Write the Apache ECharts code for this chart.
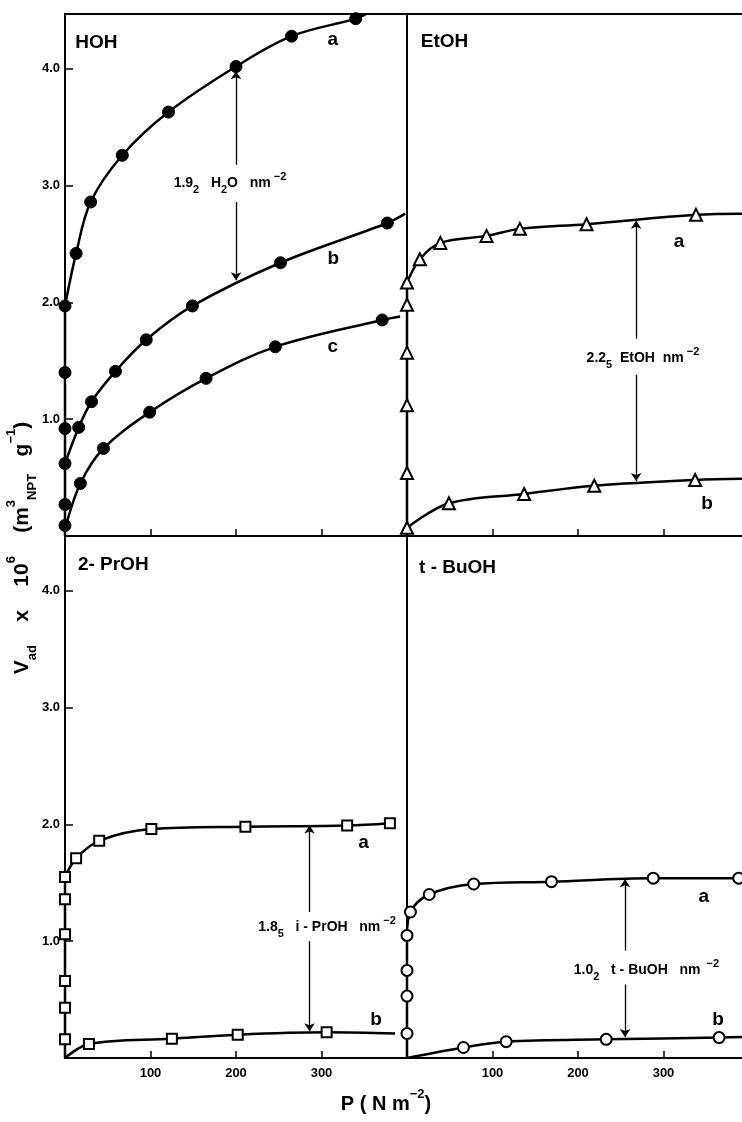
<!DOCTYPE html>
<html>
<head>
<meta charset="utf-8">
<script src="https://cdn.jsdelivr.net/npm/echarts@6/dist/echarts.min.js"></script>
<style>
html,body{margin:0;padding:0;background:#fff;}
#chart{width:742px;height:1122px;}
</style>
</head>
<body>
<div id="chart"></div>
<script>
// ---------- tick labels ----------
const xTickLabels = [100, 200, 300];
const yTickLabels = [1, 2, 3, 4];

// ---------- HOH (filled circles) ----------
const hohRise = [[0, 0], [0, 1.97]];
const hohAxisPts = [[0, 0.09], [0, 0.27], [0, 0.62], [0, 0.92], [0, 1.40], [0, 1.97]];
const hohA = [[13, 2.42], [30, 2.86], [67, 3.26], [121, 3.63], [200, 4.02], [265, 4.28], [340, 4.43]];
const hohB = [[16, 0.93], [31, 1.15], [59, 1.41], [95, 1.68], [149, 1.97], [252, 2.34], [377, 2.68]];
const hohC = [[18, 0.45], [45, 0.75], [99, 1.06], [165, 1.35], [246, 1.62], [371, 1.85]];
const hohACurve = [[0, 1.97]].concat(hohA, [[352, 4.47]]);
const hohBCurve = [[0, 0.62]].concat(hohB, [[398, 2.76]]);
const hohCCurve = [[0, 0.06]].concat(hohC, [[392, 1.88]]);
const hohArrow = { x: 200, upFrom: 3.18, upTo: 3.98, downFrom: 2.86, downTo: 2.19 };

// ---------- EtOH (open triangles) ----------
const etohRise = [[0, 0], [0, 2.17]];
const etohAxisPts = [[0, 0.07], [0, 0.54], [0, 1.12], [0, 1.57], [0, 1.98], [0, 2.17]];
const etohA = [[15, 2.37], [39, 2.51], [93, 2.57], [132, 2.63], [210, 2.67], [338, 2.75]];
const etohB = [[49, 0.28], [137, 0.36], [219, 0.43], [337, 0.48]];
const etohACurve = [[0, 2.17]].concat(etohA, [[400, 2.76]]);
const etohBCurve = [[0, 0.07]].concat(etohB, [[400, 0.49]]);
const etohArrow = { x: 268, upFrom: 1.69, upTo: 2.70, downFrom: 1.38, downTo: 0.47 };

// ---------- 2-PrOH (open squares) ----------
const prRise = [[0, 0], [0, 1.55]];
const prAxisPts = [[0, 0.16], [0, 0.43], [0, 0.66], [0, 1.06], [0, 1.36], [0, 1.55]];
const prA = [[13, 1.71], [40, 1.86], [101, 1.96], [211, 1.98], [330, 1.99], [380, 2.01]];
const prB = [[28, 0.12], [125, 0.165], [202, 0.20], [306, 0.22]];
const prACurve = [[0, 1.55]].concat(prA);
const prBCurve = [[0, 0]].concat(prB, [[386, 0.21]]);
const prArrow = { x: 286, upFrom: 1.25, upTo: 1.99, downFrom: 1.00, downTo: 0.23 };

// ---------- t-BuOH (open circles) ----------
const buRise = [[0, 0], [0, 1.05]];
const buAxisPts = [[0, 0.21], [0, 0.53], [0, 0.75], [0, 1.05]];
const buA = [[4, 1.25], [26, 1.40], [78, 1.49], [169, 1.51], [288, 1.54], [388, 1.54]];
const buB = [[66, 0.09], [116, 0.14], [233, 0.16], [365, 0.175]];
const buACurve = [[0, 1.05]].concat(buA, [[400, 1.54]]);
const buBCurve = [[0, 0]].concat(buB, [[400, 0.18]]);
const buArrow = { x: 255, upFrom: 0.92, upTo: 1.53, downFrom: 0.63, downTo: 0.18 };

// ---------- chart ----------
const FONT = 'Liberation Sans';
const BLACK = '#000';
const chart = echarts.init(document.getElementById('chart'), null, { renderer: 'canvas' });

const gridPos = [
  { left: 65, top: 14 },
  { left: 407, top: 14 },
  { left: 65, top: 536 },
  { left: 407, top: 536 }
];
const grid = gridPos.map(p => ({
  left: p.left, top: p.top, width: 342, height: 522,
  show: true, borderColor: BLACK, borderWidth: 2, backgroundColor: 'transparent',
  containLabel: false, outerBoundsMode: 'none'
}));

const xAxis = [0, 1, 2, 3].map(i => ({
  type: 'value', gridIndex: i, min: 0, max: 400, interval: 100,
  axisLine: { show: true, onZero: false, lineStyle: { color: BLACK, width: 2 } },
  axisTick: { show: true, inside: true, length: 7, lineStyle: { color: BLACK, width: 1.5 } },
  axisLabel: {
    show: i >= 2, margin: 9, color: BLACK, fontFamily: FONT, fontSize: 13, fontWeight: 'bold',
    formatter: v => xTickLabels.indexOf(v) >= 0 ? String(v) : ''
  },
  splitLine: { show: false }
}));

const yAxis = [0, 1, 2, 3].map(i => ({
  type: 'value', gridIndex: i, min: 0, max: 4.47, interval: 1,
  axisLine: { show: true, onZero: false, lineStyle: { color: BLACK, width: i % 2 ? 1.5 : 2 } },
  axisTick: { show: i % 2 === 0, inside: true, length: 8, lineStyle: { color: BLACK, width: 1.5 } },
  axisLabel: {
    show: i % 2 === 0, margin: 5, color: BLACK, fontFamily: FONT, fontSize: 13, fontWeight: 'bold',
    formatter: v => yTickLabels.indexOf(v) >= 0 ? v.toFixed(1) : ''
  },
  splitLine: { show: false }
}));

function curve(gi, data) {
  return { type: 'line', xAxisIndex: gi, yAxisIndex: gi, data: data, smooth: 0.35,
    symbol: 'none', lineStyle: { color: BLACK, width: 2.5 }, clip: true, silent: true, z: 3 };
}
function straight(gi, data) {
  return { type: 'line', xAxisIndex: gi, yAxisIndex: gi, data: data, smooth: false,
    symbol: 'none', lineStyle: { color: BLACK, width: 2.5 }, clip: false, silent: true, z: 3 };
}
function marks(gi, data, m) {
  return { type: 'scatter', xAxisIndex: gi, yAxisIndex: gi, data: data, symbol: m.symbol, symbolSize: m.size,
    itemStyle: { color: m.fill, borderColor: BLACK, borderWidth: m.bw, opacity: 1 }, clip: false, silent: true, z: 5 };
}
function arrow(gi, a) {
  return { type: 'line', xAxisIndex: gi, yAxisIndex: gi, data: [[a.x, a.upTo]], symbol: 'none',
    lineStyle: { width: 0 }, silent: true,
    markLine: { silent: true, symbol: ['none', 'arrow'], symbolSize: 8, animation: false,
      lineStyle: { color: BLACK, width: 1.3, type: 'solid', opacity: 1 }, label: { show: false },
      emphasis: { disabled: true },
      data: [
        [{ coord: [a.x, a.upFrom] }, { coord: [a.x, a.upTo] }],
        [{ coord: [a.x, a.downFrom] }, { coord: [a.x, a.downTo] }]
      ] } };
}
const RICH = {
  n: { fontSize: 14, fontWeight: 'bold', fontFamily: FONT, color: BLACK, lineHeight: 24, verticalAlign: 'middle' },
  s: { fontSize: 11, fontWeight: 'bold', fontFamily: FONT, color: BLACK, lineHeight: 14, verticalAlign: 'bottom' },
  p: { fontSize: 11, fontWeight: 'bold', fontFamily: FONT, color: BLACK, lineHeight: 14, verticalAlign: 'top' }
};
function texts(gi, items) {
  return { type: 'scatter', xAxisIndex: gi, yAxisIndex: gi, symbol: 'circle', symbolSize: 0.1, silent: true, clip: false, z: 6,
    itemStyle: { color: BLACK, opacity: 1 },
    data: items.map(t => ({ value: [t.x, t.y],
      label: { show: true, position: 'right', distance: 0, formatter: t.text, color: BLACK, opacity: 1,
        fontFamily: FONT, fontSize: t.size || 14, fontWeight: 'bold', rich: RICH } })) };
}

const filled = { symbol: 'circle', size: 12, fill: BLACK, bw: 1 };
const tri = { symbol: 'triangle', size: 12, fill: '#fff', bw: 2 };
const sq = { symbol: 'rect', size: 10, fill: '#fff', bw: 2 };
const ring = { symbol: 'circle', size: 11, fill: '#fff', bw: 2 };

const series = [
  // HOH
  straight(0, hohRise), curve(0, hohACurve), curve(0, hohBCurve), curve(0, hohCCurve),
  marks(0, hohAxisPts, filled), marks(0, hohA, filled), marks(0, hohB, filled), marks(0, hohC, filled),
  arrow(0, hohArrow),
  texts(0, [
    { x: 12, y: 4.22, text: 'HOH', size: 19 },
    { x: 307, y: 4.25, text: 'a', size: 19 },
    { x: 307, y: 2.37, text: 'b', size: 19 },
    { x: 307, y: 1.62, text: 'c', size: 19 },
    { x: 127, y: 3.02, text: '{n|1.9}{s|2}{n|   H}{s|2}{n|O   nm}{p| −2}' }
  ]),
  // EtOH
  straight(1, etohRise), curve(1, etohACurve), curve(1, etohBCurve),
  marks(1, etohAxisPts, tri), marks(1, etohA, tri), marks(1, etohB, tri),
  arrow(1, etohArrow),
  texts(1, [
    { x: 16, y: 4.23, text: 'EtOH', size: 19 },
    { x: 312, y: 2.52, text: 'a', size: 19 },
    { x: 344, y: 0.28, text: 'b', size: 19 },
    { x: 210, y: 1.52, text: '{n|2.2}{s|5}{n|  EtOH  nm}{p| −2}' }
  ]),
  // 2-PrOH
  straight(2, prRise), curve(2, prACurve), curve(2, prBCurve),
  marks(2, prAxisPts, sq), marks(2, prA, sq), marks(2, prB, sq),
  arrow(2, prArrow),
  texts(2, [
    { x: 15, y: 4.22, text: '2- PrOH', size: 19 },
    { x: 343, y: 1.84, text: 'a', size: 19 },
    { x: 357, y: 0.33, text: 'b', size: 19 },
    { x: 226, y: 1.12, text: '{n|1.8}{s|5}{n|   i - PrOH   nm}{p| −2}' }
  ]),
  // t-BuOH
  straight(3, buRise), curve(3, buACurve), curve(3, buBCurve),
  marks(3, buAxisPts, ring), marks(3, buA, ring), marks(3, buB, ring),
  arrow(3, buArrow),
  texts(3, [
    { x: 14, y: 4.20, text: 't - BuOH', size: 19 },
    { x: 341, y: 1.38, text: 'a', size: 19 },
    { x: 357, y: 0.33, text: 'b', size: 19 },
    { x: 195, y: 0.75, text: '{n|1.0}{s|2}{n|   t - BuOH   nm}{p|  −2}' }
  ])
];

const TRICH = {
  b: { fontSize: 21, fontWeight: 'bold', fontFamily: FONT, fill: BLACK, lineHeight: 34, verticalAlign: 'middle' },
  s: { fontSize: 13, fontWeight: 'bold', fontFamily: FONT, fill: BLACK, lineHeight: 17, verticalAlign: 'bottom' },
  p: { fontSize: 13, fontWeight: 'bold', fontFamily: FONT, fill: BLACK, lineHeight: 17, verticalAlign: 'top' }
};
const XRICH = {
  b: { fontSize: 20, fontWeight: 'bold', fontFamily: FONT, fill: BLACK, lineHeight: 32, verticalAlign: 'middle' },
  p: { fontSize: 13, fontWeight: 'bold', fontFamily: FONT, fill: BLACK, lineHeight: 17, verticalAlign: 'top' }
};

chart.setOption({
  animation: false,
  backgroundColor: '#fff',
  grid: grid,
  xAxis: xAxis,
  yAxis: yAxis,
  series: series,
  graphic: [
    { type: 'text', x: 22, y: 548, rotation: Math.PI / 2, silent: true,
      style: { text: '{b|V}{s|ad}{b|    x    10}{p|6}{b|    (m}{p|3}{s|NPT}{b|   g}{p|−1}{b|)}', rich: TRICH,
        align: 'center', verticalAlign: 'middle', fill: BLACK } },
    { type: 'text', x: 386, y: 1104, silent: true,
      style: { text: '{b|P ( N m}{p|−2}{b|)}', rich: XRICH, align: 'center', verticalAlign: 'middle', fill: BLACK } }
  ]
});
</script>
</body>
</html>
